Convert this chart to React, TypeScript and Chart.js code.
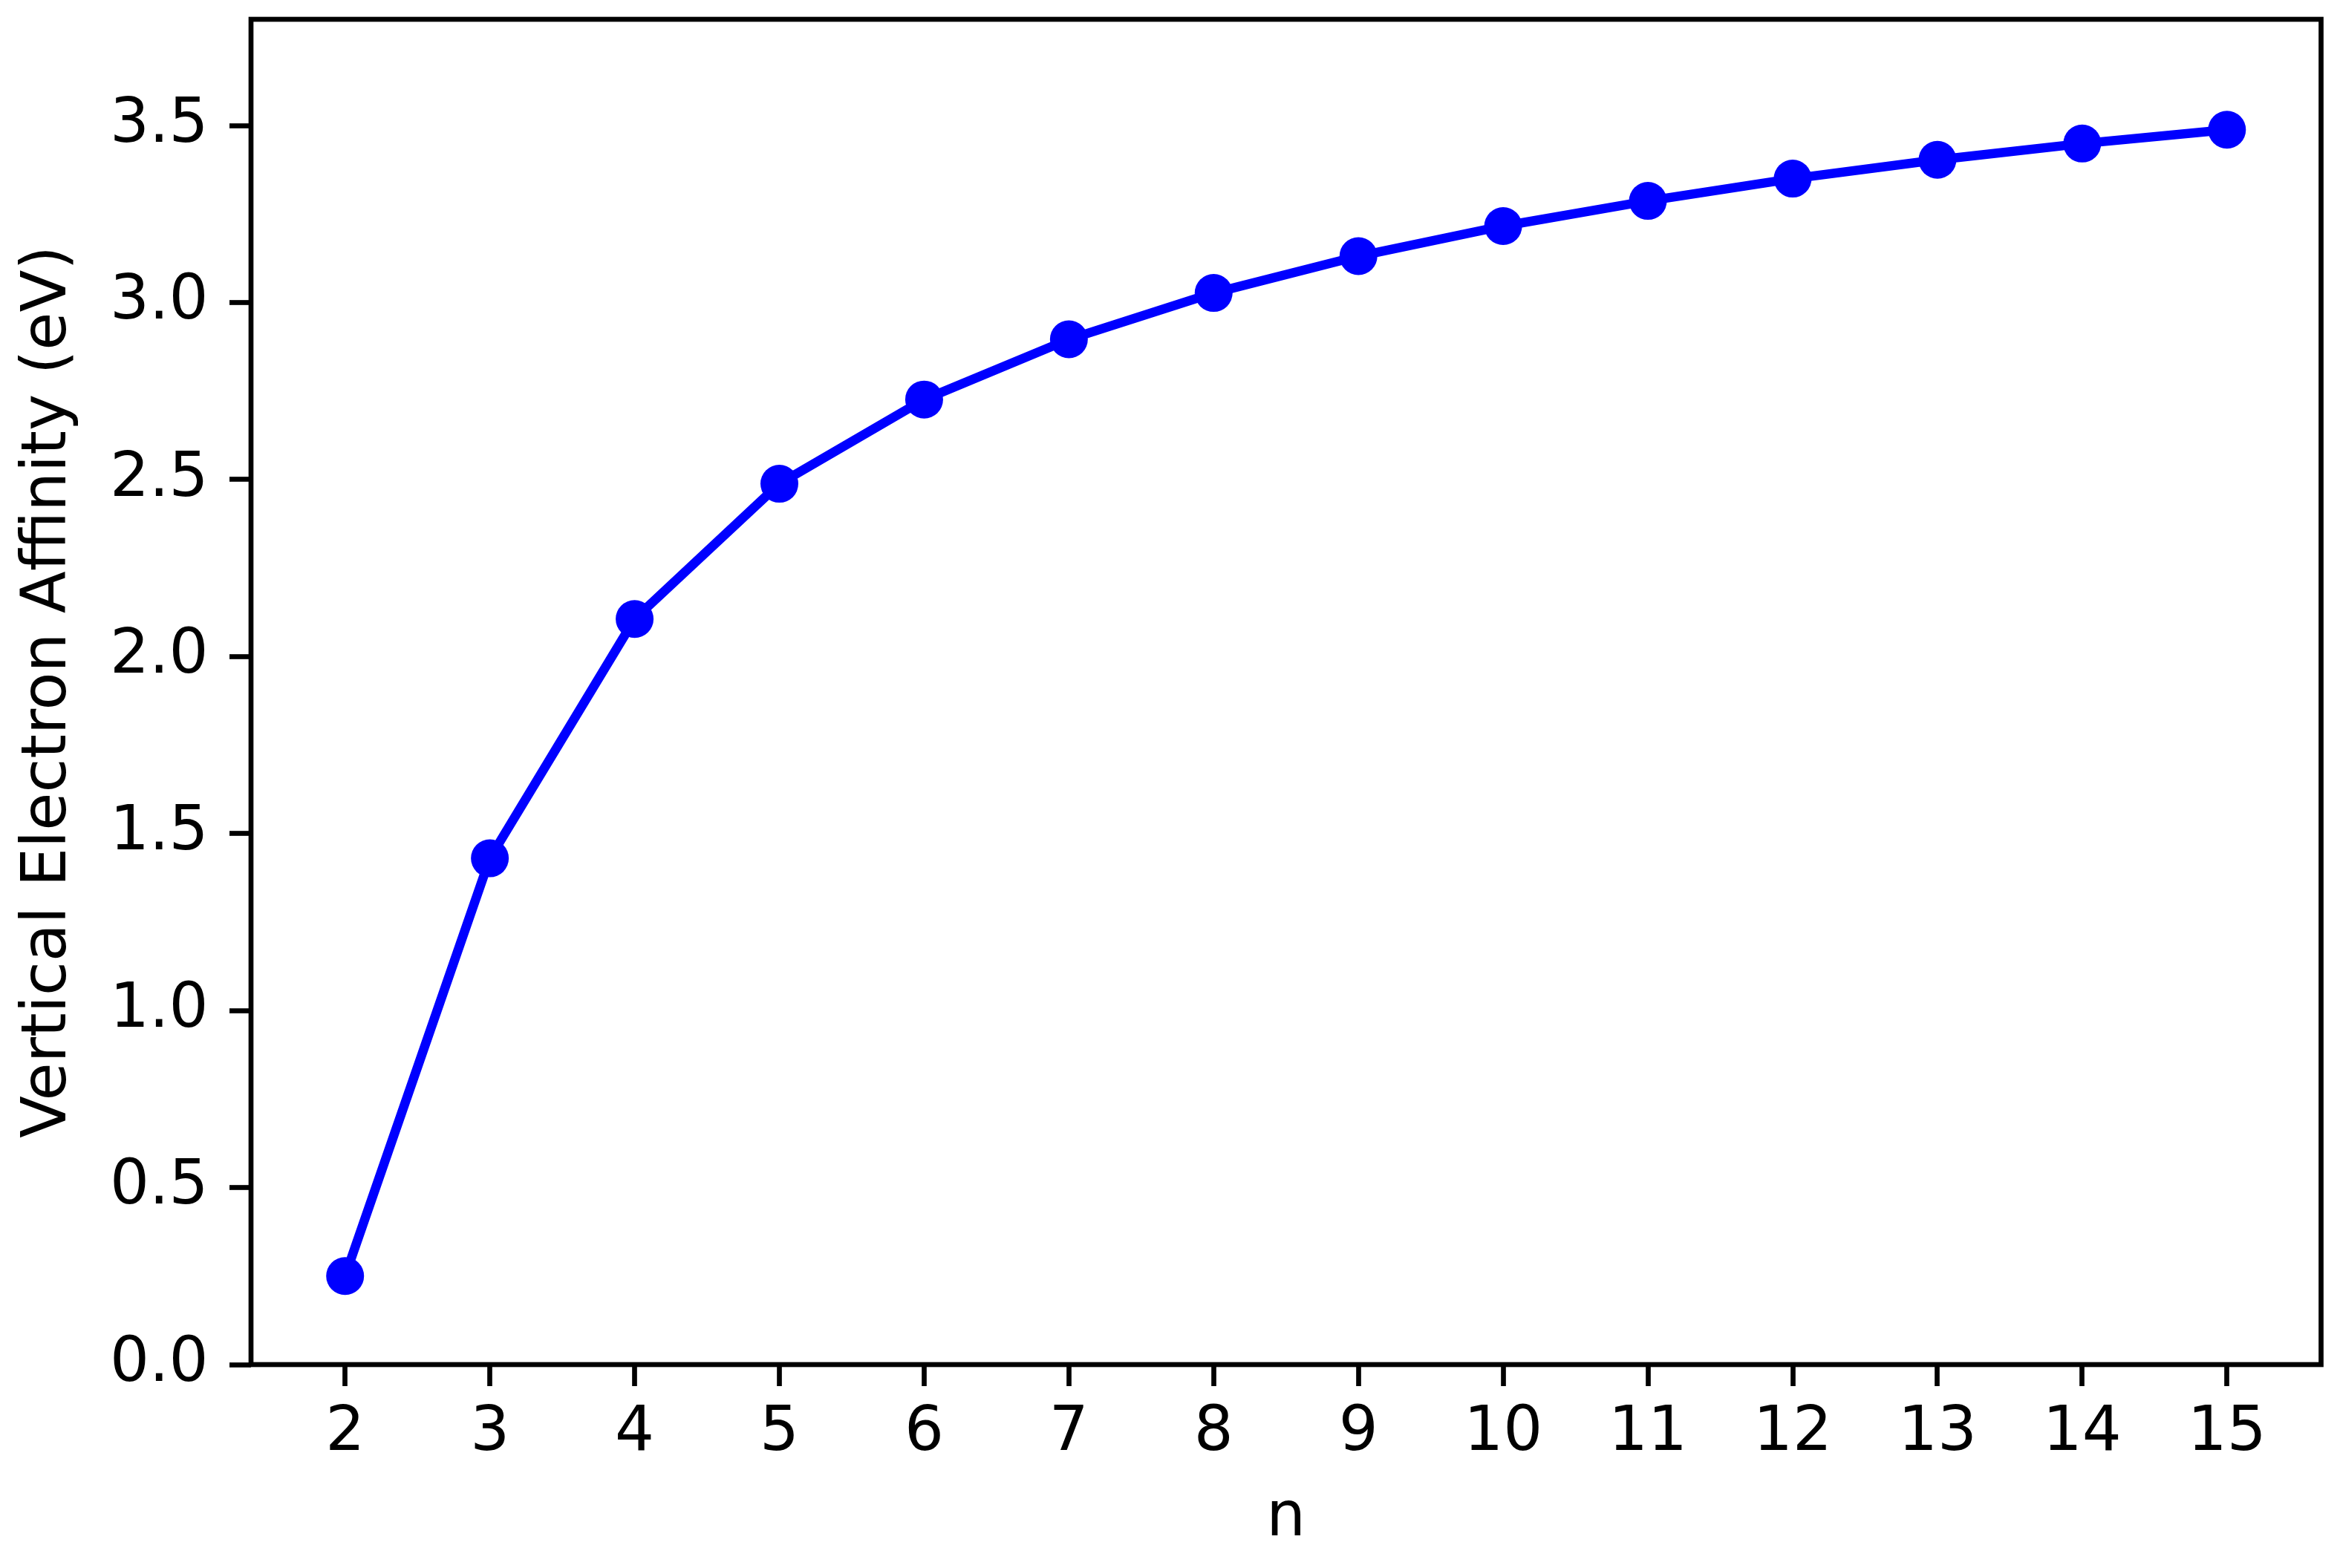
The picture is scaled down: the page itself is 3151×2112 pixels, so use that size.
import React, { useEffect, useRef } from "react";
import { Chart, registerables } from "chart.js";

Chart.register(...registerables);

const nValues = [2, 3, 4, 5, 6, 7, 8, 9, 10, 11, 12, 13, 14, 15];
const affinity = [0.25, 1.43, 2.106, 2.488, 2.726, 2.896, 3.027, 3.131, 3.216, 3.287, 3.35, 3.403, 3.449, 3.488];
const xTicks = [2, 3, 4, 5, 6, 7, 8, 9, 10, 11, 12, 13, 14, 15];
const yTicks = [0, 0.5, 1.0, 1.5, 2.0, 2.5, 3.0, 3.5];

const W = 3151;
const H = 2112;
const FONT = "'DejaVu Sans', 'Liberation Sans', sans-serif";
const FS = 83.33;
const AXW = 6.67;

const framePlugin = {
  id: "frame",
  afterDatasetsDraw(chart: any) {
    const { ctx, chartArea } = chart;
    ctx.save();
    ctx.strokeStyle = "#000000";
    ctx.lineWidth = AXW;
    ctx.lineJoin = "miter";
    ctx.strokeRect(
      chartArea.left,
      chartArea.top,
      chartArea.right - chartArea.left,
      chartArea.bottom - chartArea.top
    );
    ctx.restore();
  },
};

export default function App() {
  const ref = useRef<HTMLCanvasElement | null>(null);

  useEffect(() => {
    if (!ref.current) return;
    const chart = new Chart(ref.current, {
      type: "line",
      data: {
        datasets: [
          {
            data: nValues.map((n, i) => ({ x: n, y: affinity[i] })),
            borderColor: "#0000ff",
            backgroundColor: "#0000ff",
            borderWidth: 12.5,
            pointRadius: 25.5,
            pointBorderWidth: 0,
            pointBackgroundColor: "#0000ff",
            pointHoverRadius: 25.5,
            tension: 0,
            fill: false,
          },
        ],
      },
      plugins: [framePlugin],
      options: {
        animation: false,
        responsive: false,
        devicePixelRatio: 1,
        events: [],
        layout: { padding: { top: 26, right: 23, left: 0, bottom: 0 } },
        plugins: {
          legend: { display: false },
          tooltip: { enabled: false },
          title: { display: false },
        },
        scales: {
          x: {
            type: "linear",
            min: 1.35,
            max: 15.65,
            afterFit(scale: any) {
              scale.height = 274;
              scale.paddingLeft = 0;
              scale.paddingRight = 0;
              scale.paddingTop = 0;
              scale.paddingBottom = 0;
            },
            afterBuildTicks(scale: any) {
              scale.ticks = xTicks.map((v) => ({ value: v }));
            },
            grid: {
              drawOnChartArea: false,
              drawTicks: true,
              tickLength: 29,
              tickWidth: AXW,
              tickColor: "#000000",
            },
            border: { display: false },
            ticks: {
              color: "#000000",
              font: { family: FONT, size: FS, lineHeight: 1.2 },
              padding: 14,
              maxRotation: 0,
              autoSkip: false,
              callback: (v: any) => String(v),
            },
            title: {
              display: true,
              text: "n",
              color: "#000000",
              font: { family: FONT, size: FS, lineHeight: 1.2 },
              padding: { top: 0, bottom: 16 },
            },
          },
          y: {
            type: "linear",
            min: 0,
            max: 3.8,
            afterFit(scale: any) {
              scale.width = 338;
              scale.paddingLeft = 0;
              scale.paddingRight = 0;
              scale.paddingTop = 0;
              scale.paddingBottom = 0;
            },
            afterBuildTicks(scale: any) {
              scale.ticks = yTicks.map((v) => ({ value: v }));
            },
            grid: {
              drawOnChartArea: false,
              drawTicks: true,
              tickLength: 29,
              tickWidth: AXW,
              tickColor: "#000000",
            },
            border: { display: false },
            ticks: {
              color: "#000000",
              font: { family: FONT, size: FS, lineHeight: 1.2 },
              padding: 28.5,
              autoSkip: false,
              callback: (v: any) => Number(v).toFixed(1),
            },
            title: {
              display: true,
              text: "Vertical Electron Affinity (eV)",
              color: "#000000",
              font: { family: FONT, size: FS, lineHeight: 1.2 },
              padding: { top: 16, bottom: 0 },
            },
          },
        },
      },
    } as any);
    return () => chart.destroy();
  }, []);

  return (
    <div style={{ position: "absolute", left: 0, top: 0, width: W, height: H, background: "#ffffff" }}>
      <canvas ref={ref} width={W} height={H} style={{ width: W, height: H, display: "block" }} />
    </div>
  );
}
